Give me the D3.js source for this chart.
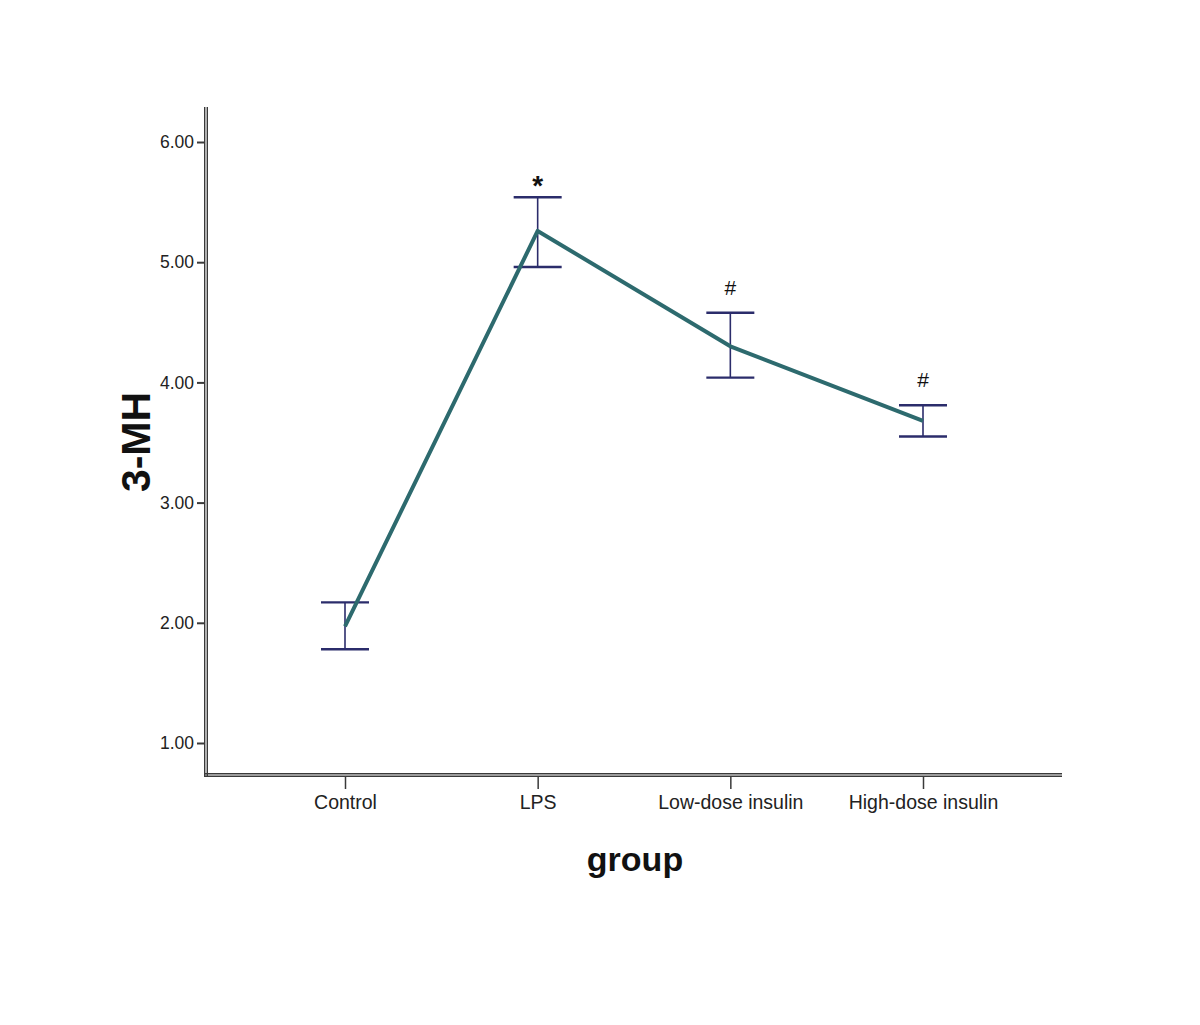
<!DOCTYPE html>
<html>
<head>
<meta charset="utf-8">
<script src="https://cdn.jsdelivr.net/npm/d3@7"></script>
<style>
html,body{margin:0;padding:0;background:#fff;}
svg{display:block;}
text{font-family:"Liberation Sans",Arial,sans-serif;}
</style>
</head>
<body>
<svg id="chart" width="1200" height="1025"></svg>
<script>
const categories = ["Control", "LPS", "Low-dose insulin", "High-dose insulin"];
const means = [1.97, 5.26, 4.30, 3.68];
const upper = [2.17, 5.54, 4.58, 3.81];
const lower = [1.78, 4.96, 4.04, 3.55];
const marks = ["", "*", "#", "#"];
const yTicks = [1, 2, 3, 4, 5, 6];

const svg = d3.select("#chart");
const axisX = 206, axisY = 775;
const x = d3.scalePoint().domain(categories).range([345, 923]);
const y = d3.scaleLinear().domain([1, 6]).range([743, 142]);

const lineCol = "#2d6a6e", errCol = "#2b2c6b", axCol = "#3a3a3a";

// Y axis (double line)
[-1.3, 1.3].forEach(d => {
  svg.append("line").attr("x1", axisX + d).attr("x2", axisX + d)
    .attr("y1", 107).attr("y2", axisY + 2).attr("stroke", axCol).attr("stroke-width", 1.4);
});
// X axis (double line)
[-1.3, 1.3].forEach(d => {
  svg.append("line").attr("x1", axisX - 2).attr("x2", 1062)
    .attr("y1", axisY + d).attr("y2", axisY + d).attr("stroke", axCol).attr("stroke-width", 1.4);
});

// Y ticks
const yAxis = d3.axisLeft(y).tickValues(yTicks).tickFormat(d3.format(".2f")).tickSize(7).tickPadding(3);
const gy = svg.append("g").attr("transform", `translate(${axisX - 2},0)`).call(yAxis);
gy.select(".domain").remove();
gy.selectAll(".tick line").attr("stroke", axCol).attr("stroke-width", 2);
gy.selectAll(".tick text").attr("font-size", 17.5).attr("fill", "#222").attr("font-family", "Liberation Sans, Arial, sans-serif");

// X ticks
const xAxis = d3.axisBottom(x).tickSize(12).tickPadding(6);
const gx = svg.append("g").attr("transform", `translate(0,${axisY + 2})`).call(xAxis);
gx.select(".domain").remove();
gx.selectAll(".tick line").attr("stroke", axCol).attr("stroke-width", 1.5);
gx.selectAll(".tick text").attr("font-size", 19.5).attr("fill", "#222").attr("font-family", "Liberation Sans, Arial, sans-serif");

// Error bars
const eb = svg.append("g");
categories.forEach((c, i) => {
  const cx = x(c);
  eb.append("line").attr("x1", cx).attr("x2", cx).attr("y1", y(upper[i])).attr("y2", y(lower[i]))
    .attr("stroke", errCol).attr("stroke-width", 1.6);
  [upper[i], lower[i]].forEach(v => {
    eb.append("line").attr("x1", cx - 24).attr("x2", cx + 24).attr("y1", y(v)).attr("y2", y(v))
      .attr("stroke", errCol).attr("stroke-width", 2.4);
  });
});

// Mean line
svg.append("path")
  .datum(categories.map((c, i) => [x(c), y(means[i])]))
  .attr("d", d3.line())
  .attr("fill", "none").attr("stroke", lineCol).attr("stroke-width", 4).attr("stroke-linejoin", "round");

// Significance marks
categories.forEach((c, i) => {
  if (!marks[i]) return;
  const isStar = marks[i] === "*";
  svg.append("text").attr("x", x(c)).attr("y", y(upper[i]) - (isStar ? 2 : 18))
    .attr("text-anchor", "middle")
    .attr("font-size", isStar ? 28 : 21)
    .attr("font-weight", isStar ? "bold" : "normal")
    .attr("fill", "#111").text(marks[i]);
});

// Axis titles
svg.append("text").attr("transform", "translate(150,442) rotate(-90)")
  .attr("text-anchor", "middle").attr("font-size", 41).attr("font-weight", "bold").attr("fill", "#111").text("3-MH");
svg.append("text").attr("x", 635).attr("y", 871)
  .attr("text-anchor", "middle").attr("font-size", 34).attr("font-weight", "bold").attr("fill", "#111").text("group");
</script>
</body>
</html>
